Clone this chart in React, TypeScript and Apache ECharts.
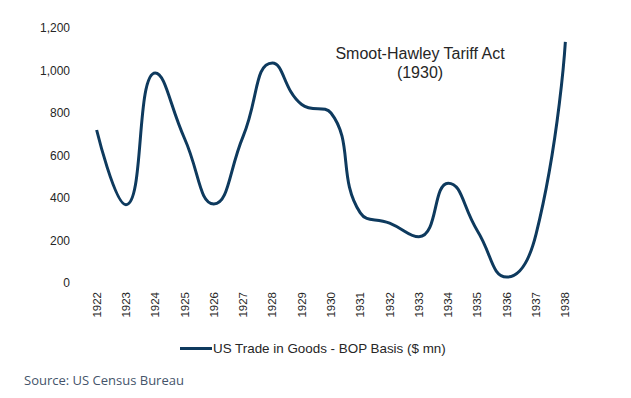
import React, { useEffect, useRef } from "react";
import * as echarts from "echarts";

const years = ["1922","1923","1924","1925","1926","1927","1928","1929","1930","1931","1932","1933","1934","1935","1936","1937","1938"];
const tradeValues = [720, 368, 988, 680, 372, 690, 1035, 840, 800, 330, 282, 218, 470, 245, 28, 230, 1135];
const seriesName = "US Trade in Goods - BOP Basis ($ mn)";
const annotation = "Smoot-Hawley Tariff Act\n(1930)";
const source = "Source: US Census Bureau";

export default function App() {
  const ref = useRef<HTMLDivElement>(null);
  useEffect(() => {
    if (!ref.current) return;
    const chart = echarts.init(ref.current, null, { renderer: "svg" });
    chart.setOption({
      animation: false,
      backgroundColor: "#ffffff",
      textStyle: { fontFamily: "Liberation Sans, Arial, sans-serif" },
      grid: { left: 82, top: 28, width: 498, height: 255, containLabel: false },
      xAxis: {
        type: "category",
        data: years,
        boundaryGap: true,
        axisLine: { show: false },
        axisTick: { show: false },
        axisLabel: { rotate: 90, margin: 9, fontSize: 11.5, color: "#262626", fontFamily: "Liberation Sans, Arial, sans-serif" },
      },
      yAxis: {
        type: "value",
        min: 0,
        max: 1200,
        interval: 200,
        axisLine: { show: false },
        axisTick: { show: false },
        splitLine: { show: false },
        axisLabel: {
          margin: 12,
          fontSize: 12,
          color: "#262626",
          fontFamily: "Liberation Sans, Arial, sans-serif",
          formatter: (v: number) => v.toLocaleString("en-US"),
        },
      },
      legend: {
        data: [seriesName],
        left: 180,
        top: 342,
        padding: 0,
        itemWidth: 32,
        itemHeight: 3,
        itemGap: 2,
        icon: "rect",
        textStyle: { fontSize: 13.4, color: "#262626", padding: [0, 0, 0, -4] },
      },
      series: [
        {
          name: seriesName,
          type: "line",
          data: tradeValues,
          smooth: 0.5,
          showSymbol: false,
          symbol: "none",
          lineStyle: { color: "#0e3a5e", width: 3 },
          itemStyle: { color: "#0e3a5e" },
        },
      ],
      graphic: [
        {
          type: "text",
          x: 420,
          y: 44,
          style: {
            text: annotation,
            fontSize: 16,
            lineHeight: 19,
            align: "center",
            verticalAlign: "top",
            fill: "#262626",
            fontFamily: "Liberation Sans, Arial, sans-serif",
          },
        },
        {
          type: "text",
          x: 24,
          y: 373,
          style: {
            text: source,
            fontSize: 13,
            fill: "#44546a",
            fontFamily: "Open Sans, sans-serif",
          },
        },
      ],
    });
    return () => chart.dispose();
  }, []);
  return <div ref={ref} style={{ width: 631, height: 398, position: "absolute", left: 0, top: 0 }} />;
}
